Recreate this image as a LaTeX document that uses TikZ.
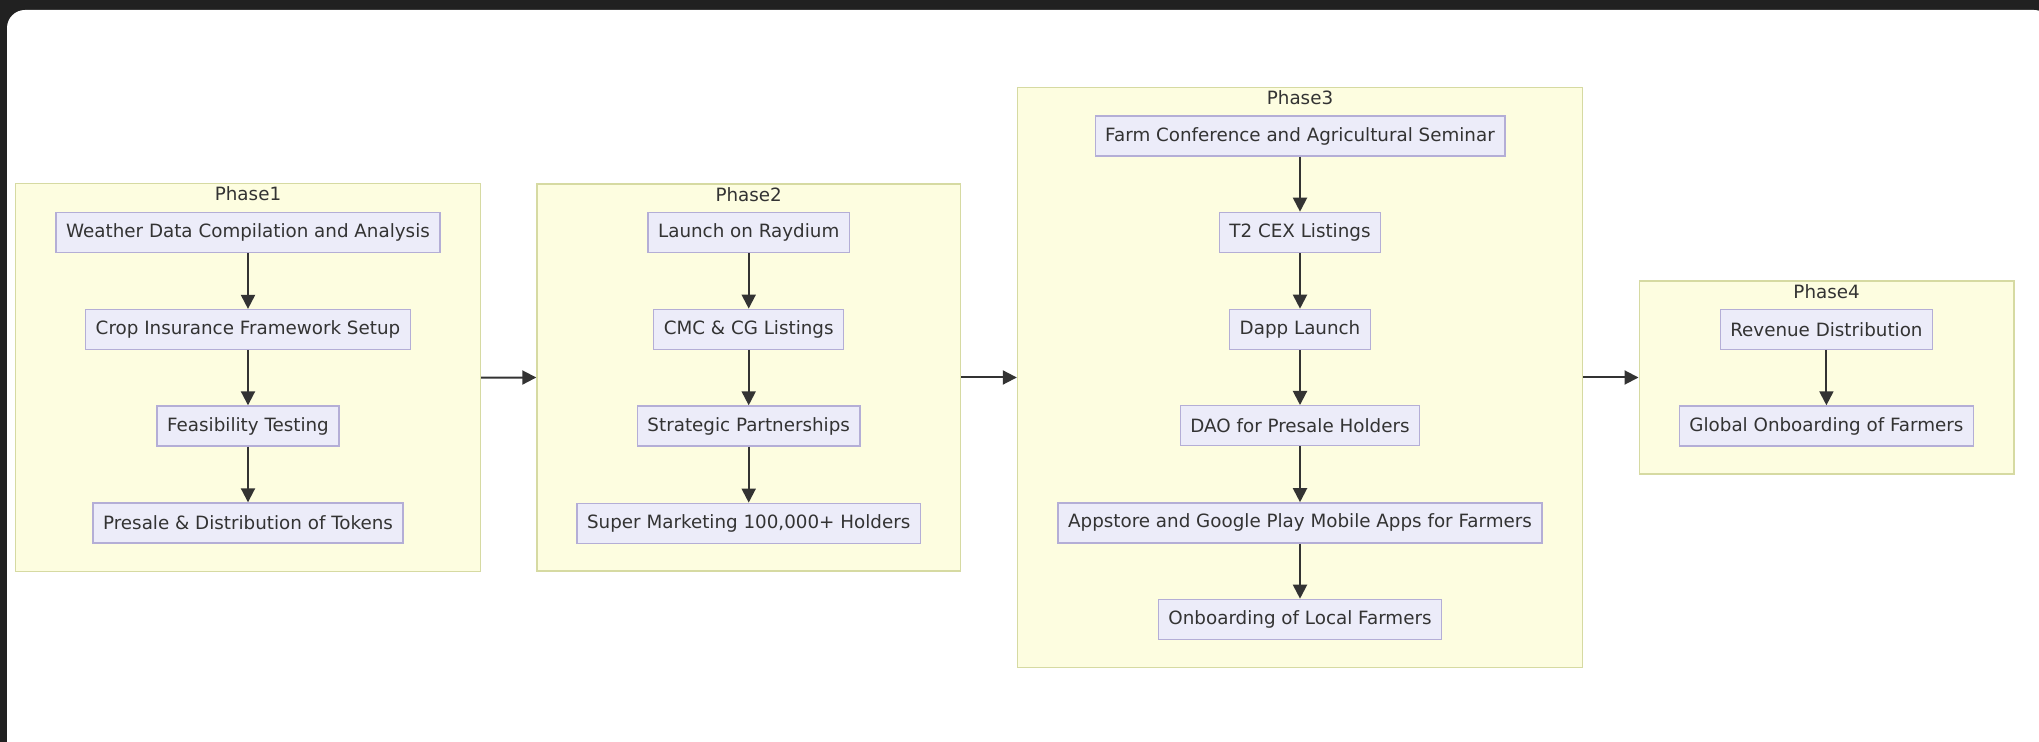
\documentclass[tikz,border=0pt]{standalone}
\usepackage{fontspec}
\setmainfont{DejaVu Sans}
\usetikzlibrary{arrows.meta}
\definecolor{framedark}{HTML}{212121}
\definecolor{nodefill}{HTML}{ECECF9}
\definecolor{nodeline}{HTML}{B4AED6}
\definecolor{clusterfill}{HTML}{FDFDE0}
\definecolor{clusterline}{HTML}{D6DAA2}
\definecolor{ink}{HTML}{333333}

\begin{document}
\begin{tikzpicture}[x=0.5pt,y=-0.5pt,
  every node/.style={font=\fontsize{9.15}{11}\selectfont, text=ink},
  stepbox/.style={draw=nodeline, fill=nodefill, line width=0.7pt,
    inner xsep=5pt, inner ysep=0pt, minimum height=20pt},
  phase/.style={draw=clusterline, fill=clusterfill, line width=0.7pt, inner sep=0pt},
  flow/.style={draw=ink, line width=1pt, -{Triangle[length=7pt,width=7pt]}},
]
\useasboundingbox (0,0) rectangle (2039,742);
% dark window frame with white canvas
\begin{scope}
\clip (0,0) rectangle (2039,742);
\fill[framedark] (0,0) rectangle (2039,742);
\fill[white, rounded corners=9pt] (7,10) rectangle (2052,762);
\end{scope}

% phase containers
\node[phase, minimum width=232.4pt, minimum height=194pt] (p1) at (248,377.6) {};
\node[phase, minimum width=211.7pt, minimum height=193.5pt] (p2) at (748.7,377.5) {};
\node[phase, minimum width=282.5pt, minimum height=289.8pt] (p3) at (1300,377.5) {};
\node[phase, minimum width=187.4pt, minimum height=96.5pt] (p4) at (1826.6,377.5) {};

\node (t1) at ([yshift=-5.6pt]p1.north) {Phase1};
\node (t2) at ([yshift=-5.6pt]p2.north) {Phase2};
\node (t3) at ([yshift=-5.4pt]p3.north) {Phase3};
\node (t4) at ([yshift=-5.6pt]p4.north) {Phase4};

% Phase 1 steps
\node[stepbox] (a1) at (248,232.6) {Weather Data Compilation and Analysis};
\node[stepbox] (a2) at (248,329.6) {Crop Insurance Framework Setup};
\node[stepbox] (a3) at (248,426) {Feasibility Testing};
\node[stepbox] (a4) at (248,523) {Presale \& Distribution of Tokens};

% Phase 2 steps
\node[stepbox] (b1) at (748.7,232.3) {Launch on Raydium};
\node[stepbox] (b2) at (748.7,329.3) {CMC \& CG Listings};
\node[stepbox] (b3) at (748.7,426) {Strategic Partnerships};
\node[stepbox] (b4) at (748.7,523.3) {Super Marketing 100,000+ Holders};

% Phase 3 steps
\node[stepbox] (c1) at (1300,136) {Farm Conference and Agricultural Seminar};
\node[stepbox] (c2) at (1300,232.4) {T2 CEX Listings};
\node[stepbox] (c3) at (1300,329.4) {Dapp Launch};
\node[stepbox] (c4) at (1300,425.7) {DAO for Presale Holders};
\node[stepbox] (c5) at (1300,522.9) {Appstore and Google Play Mobile Apps for Farmers};
\node[stepbox] (c6) at (1300,619.4) {Onboarding of Local Farmers};

% Phase 4 steps
\node[stepbox] (d1) at (1826.4,329.3) {Revenue Distribution};
\node[stepbox] (d2) at (1826.4,426) {Global Onboarding of Farmers};

% connectors inside phases
\draw[flow] (a1) -- (a2);
\draw[flow] (a2) -- (a3);
\draw[flow] (a3) -- (a4);
\draw[flow] (b1) -- (b2);
\draw[flow] (b2) -- (b3);
\draw[flow] (b3) -- (b4);
\draw[flow] (c1) -- (c2);
\draw[flow] (c2) -- (c3);
\draw[flow] (c3) -- (c4);
\draw[flow] (c4) -- (c5);
\draw[flow] (c5) -- (c6);
\draw[flow] (d1) -- (d2);

% connectors between phases
\draw[flow] (p1.east) -- (p2.west);
\draw[flow] (p2.east) -- (p3.west);
\draw[flow] (p3.east) -- (p4.west);
\end{tikzpicture}
\end{document}
